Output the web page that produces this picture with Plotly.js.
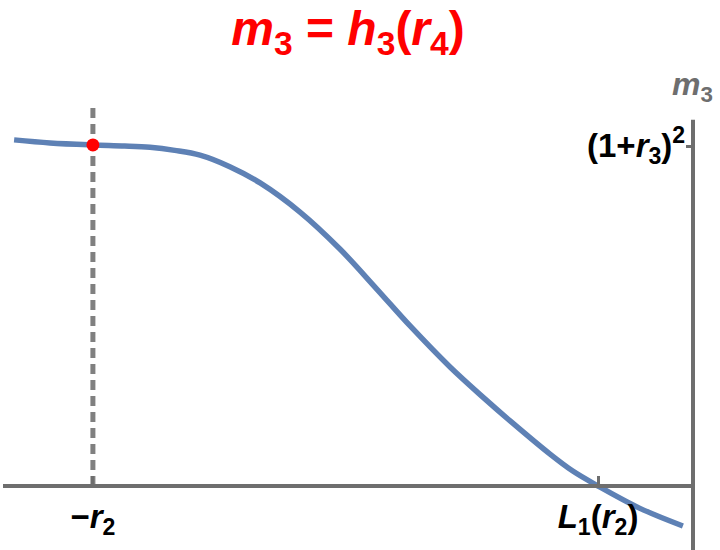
<!DOCTYPE html>
<html>
<head>
<meta charset="utf-8">
<script src="https://cdn.plot.ly/plotly-3.0.1.min.js"></script>
<style>html,body{margin:0;padding:0;background:#fff;}#chart{width:720px;height:550px;}</style>
</head>
<body>
<div id="chart"></div>
<script>
// Curve m3 = h3(r4), x in units where -r2 = 0 and L1(r2) = 1, y in units of (1+r3)^2
const curveX = [-0.156, -0.085, 0, 0.063, 0.113, 0.162, 0.212, 0.271, 0.331, 0.410, 0.489, 0.562, 0.628, 0.707, 0.776, 0.826, 0.905, 0.950, 1.0, 1.083, 1.168];
const curveY = [1.021, 1.012, 1.006, 1.003, 0.999, 0.990, 0.976, 0.942, 0.894, 0.808, 0.699, 0.581, 0.472, 0.351, 0.257, 0.192, 0.094, 0.044, 0.0, -0.066, -0.118];
const pointX = [0];
const pointY = [1.006];
const dashX = [0, 0];
const dashY = [0, 1.124];
const xTickVals = [0, 1];
const xTickText = ["<b>\u2212<i>r</i><sub>2</sub></b>", "<b><i>L</i><sub>1</sub>(<i>r</i><sub>2</sub>)</b>"];
const yTickVals = [1];
const yTickText = ["<b>(1+<i>r</i><sub>3</sub>)<sup>2</sup></b>"];
const titleText = "<b><i>m</i><sub>3</sub> = <i>h</i><sub>3</sub>(<i>r</i><sub>4</sub>)</b>";
const yLabel = "<b><i>m</i><sub>3</sub></b>";

const axisColor = "#6e6e6e";
const font = "Liberation Sans, Arial, sans-serif";

const traces = [
  {x: dashX, y: dashY, mode: "lines", line: {color: "#808080", width: 5, dash: "10px,6px"}, hoverinfo: "skip", cliponaxis: false},
  {x: curveX, y: curveY, mode: "lines", line: {color: "#5e81b5", width: 5.5, shape: "spline", smoothing: 1, simplify: false}, hoverinfo: "skip"},
  {x: pointX, y: pointY, mode: "markers", marker: {color: "#ff0000", size: 13}, hoverinfo: "skip", cliponaxis: false}
];

const yTickAnnotations = yTickVals.map((v, i) => ({
  text: yTickText[i], xref: "paper", yref: "y", x: 1, y: v, xanchor: "right", yanchor: "middle",
  xshift: -6, yshift: 1, showarrow: false, font: {family: font, size: 33, color: "#000"}
}));

const layout = {
  width: 720, height: 550,
  margin: {l: 3, r: 27, t: 100, b: 0},
  paper_bgcolor: "#fff", plot_bgcolor: "#fff",
  showlegend: false,
  font: {family: font, color: "#000"},
  title: {text: titleText, font: {family: font, size: 48, color: "#ff0000"},
          x: 0.5, xref: "paper", xanchor: "center", y: 0.948, yanchor: "middle"},
  xaxis: {range: [-0.178, 1.188], showgrid: false, zeroline: false,
          anchor: "free", position: 0.1422,
          showline: true, linecolor: axisColor, linewidth: 4,
          tickmode: "array", tickvals: xTickVals, ticktext: xTickText,
          ticks: "inside", ticklen: 8, tickwidth: 3, tickcolor: axisColor,
          tickfont: {family: font, size: 33, color: "#000"}, fixedrange: true},
  yaxis: {range: [-0.1888, 1.1386], showgrid: false, zeroline: false, side: "right",
          showline: false, showticklabels: false,
          tickmode: "array", tickvals: yTickVals,
          ticks: "inside", ticklen: 7, tickwidth: 3, tickcolor: axisColor,
          fixedrange: true},
  shapes: [
    {type: "line", xref: "paper", yref: "y", x0: 1, x1: 1, y0: -0.1888, y1: 1.08,
     line: {color: axisColor, width: 4}, layer: "above"}
  ],
  annotations: [
    {text: yLabel, xref: "paper", yref: "paper", x: 0.9986, y: 1.029, xanchor: "center", yanchor: "middle",
     showarrow: false, font: {family: font, size: 32, color: axisColor}}
  ].concat(yTickAnnotations)
};

Plotly.newPlot("chart", traces, layout, {staticPlot: true, displayModeBar: false});
</script>
</body>
</html>
